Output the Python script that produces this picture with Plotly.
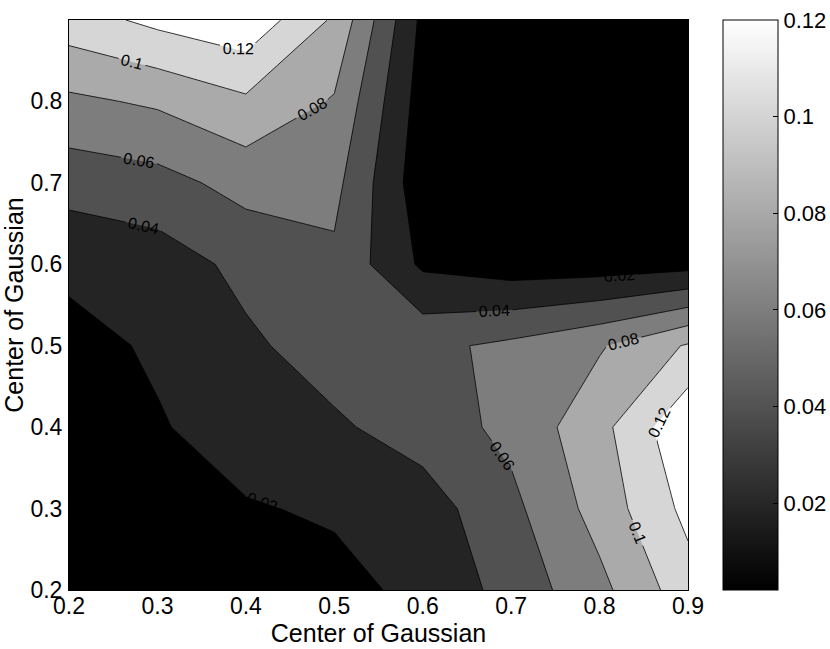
import plotly.graph_objects as go

# Grid of Gaussian centres
x_vals = [0.2, 0.3, 0.4, 0.5, 0.6, 0.7, 0.8, 0.9]
y_vals = [0.2, 0.3, 0.4, 0.5, 0.6, 0.7, 0.8, 0.9]

# Values, one row per y value (x from 0.2 to 0.9)
z_y020 = [0.002, 0.005, 0.010, 0.0146, 0.0244, 0.0473, 0.0744, 0.1115]
z_y030 = [0.004, 0.011, 0.0186, 0.0222, 0.0305, 0.0548, 0.088, 0.1256]
z_y040 = [0.008, 0.0185, 0.028, 0.037, 0.049, 0.0654, 0.0935, 0.137]
z_y050 = [0.014, 0.0225, 0.0365, 0.049, 0.055, 0.0644, 0.078, 0.102]
z_y060 = [0.024, 0.030, 0.0453, 0.056, 0.0165, 0.0089, 0.0095, 0.013]
z_y070 = [0.048, 0.053, 0.067, 0.0659, 0.007, 0.004, 0.003, 0.005]
z_y080 = [0.076, 0.083, 0.0965, 0.0782, 0.0105, 0.004, 0.003, 0.004]
z_y090 = [0.111, 0.125, 0.135, 0.097, 0.015, 0.005, 0.004, 0.004]
z_rows = [z_y020, z_y030, z_y040, z_y050, z_y060, z_y070, z_y080, z_y090]

levels_start, levels_end, levels_step = 0.02, 0.12, 0.02
cbar_min, cbar_max = 0.002, 0.12
x_ticks = [0.2, 0.3, 0.4, 0.5, 0.6, 0.7, 0.8, 0.9]
y_ticks = [0.2, 0.3, 0.4, 0.5, 0.6, 0.7, 0.8]
cbar_ticks = [0.02, 0.04, 0.06, 0.08, 0.1, 0.12]
cbar_ticktext = ["0.02", "0.04", "0.06", "0.08", "0.1", "0.12"]

# band greys (MATLAB gray colormap sampled at each level)
band_greys = [0, 36, 81, 125, 170, 214, 255]
bounds = [0, 1/12, 3/12, 5/12, 7/12, 9/12, 11/12, 1]
fill_scale = []
for k, g in enumerate(band_greys):
    c = f"rgb({g},{g},{g})"
    fill_scale.append([bounds[k], c])
    fill_scale.append([bounds[k + 1], c])

FONT = "Liberation Sans, Arial, Helvetica, sans-serif"
TICK = dict(family=FONT, size=23, color="black")
CBTICK = dict(family=FONT, size=22, color="black")
TITLE = dict(family=FONT, size=25, color="black")

fig = go.Figure()
fig.add_trace(go.Contour(
    x=x_vals, y=y_vals, z=z_rows,
    autocontour=False,
    contours=dict(start=levels_start, end=levels_end, size=levels_step,
                  coloring="fill", showlabels=True,
                  labelfont=dict(family=FONT, size=16, color="black")),
    colorscale=fill_scale,
    showscale=False,
    line=dict(color="black", width=0.8, smoothing=0),
    hoverinfo="skip",
))

# continuous grey colorbar (as in the original)
fig.add_trace(go.Scatter(
    x=[None], y=[None], mode="markers",
    marker=dict(color=[cbar_min], cmin=cbar_min, cmax=cbar_max,
                colorscale=[[0, "black"], [1, "white"]], showscale=True,
                colorbar=dict(
                    thickness=55, thicknessmode="pixels",
                    len=1, lenmode="fraction", y=0.5, yanchor="middle",
                    x=1.0566, xanchor="left", xpad=0, ypad=0,
                    outlinewidth=1, outlinecolor="black",
                    ticks="inside", ticklen=5, tickcolor="black",
                    tickvals=cbar_ticks, ticktext=cbar_ticktext,
                    tickfont=CBTICK)),
    showlegend=False, hoverinfo="skip",
))

fig.update_layout(
    width=830, height=649,
    margin=dict(l=69, r=142, t=20, b=59, autoexpand=False),
    paper_bgcolor="white", plot_bgcolor="white",
    font=dict(family=FONT, color="black"),
    showlegend=False,
    xaxis=dict(range=[0.2, 0.9], tickvals=x_ticks,
               ticktext=[f"{v:g}" for v in x_ticks],
               showgrid=False, zeroline=False, showline=True,
               linecolor="black", linewidth=1, mirror=True, ticks="",
               automargin=False, ticklabelstandoff=-5,
               tickfont=TICK,
               title=dict(text="Center of Gaussian", standoff=5, font=TITLE)),
    yaxis=dict(range=[0.2, 0.9], tickvals=y_ticks,
               ticktext=[f"{v:g}" for v in y_ticks],
               showgrid=False, zeroline=False, showline=True,
               linecolor="black", linewidth=1, mirror=True, ticks="",
               automargin=False, ticklabelstandoff=1,
               tickfont=TICK,
               title=dict(text="Center of Gaussian", standoff=8, font=TITLE)),
)

# remove the browser's default page margin so the 830x649 figure fills the window
fig.write_html(
    "out.html",
    config={"displayModeBar": False},
    post_script="document.body.style.margin='0px';document.body.style.overflow='hidden';",
)
